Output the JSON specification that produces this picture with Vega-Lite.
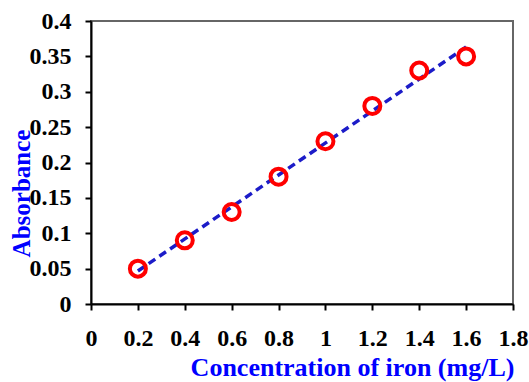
{
  "$schema": "https://vega.github.io/schema/vega-lite/v6.json",
  "width": 422,
  "height": 283,
  "autosize": "none",
  "padding": {"left": 91, "top": 21, "right": 16, "bottom": 78},
  "background": "white",
  "config": {
    "view": {"stroke": "#666666", "strokeWidth": 2},
    "axis": {
      "grid": false,
      "domainColor": "black",
      "domainWidth": 2,
      "tickColor": "black",
      "tickWidth": 2,
      "tickSize": 6,
      "labelFont": "Liberation Serif",
      "labelFontWeight": "bold",
      "labelFontSize": 24,
      "labelColor": "black",
      "labelOverlap": false,
      "format": "~g",
      "titleFont": "Liberation Serif",
      "titleFontWeight": "bold",
      "titleColor": "#0000ff"
    }
  },
  "datasets": {
    "pts": [
      {"conc": 0.2, "abs": 0.05},
      {"conc": 0.4, "abs": 0.09},
      {"conc": 0.6, "abs": 0.13},
      {"conc": 0.8, "abs": 0.18},
      {"conc": 1.0, "abs": 0.23},
      {"conc": 1.2, "abs": 0.28},
      {"conc": 1.4, "abs": 0.33},
      {"conc": 1.6, "abs": 0.35}
    ],
    "fit": [
      {"conc": 0.2, "abs": 0.0467},
      {"conc": 1.6, "abs": 0.3633}
    ]
  },
  "encoding": {
    "x": {"field": "conc", "type": "quantitative", "scale": {"domain": [0, 1.8], "nice": false},
      "axis": {"values": [0, 0.2, 0.4, 0.6, 0.8, 1, 1.2, 1.4, 1.6, 1.8], "labelPadding": 16, "labelFlush": false,
        "title": "Concentration of iron (mg/L)", "titleFontSize": 26, "titleX": 261, "titleY": 71, "titleAnchor": "middle", "titleAlign": "center", "titleBaseline": "alphabetic"}},
    "y": {"field": "abs", "type": "quantitative", "scale": {"domain": [0, 0.4], "nice": false},
      "axis": {"values": [0, 0.05, 0.1, 0.15, 0.2, 0.25, 0.3, 0.35, 0.4], "labelPadding": 14, "labelFlush": false,
        "title": "Absorbance", "titleFontSize": 25, "titleX": -70, "titleY": 172, "titleAngle": -90, "titleAlign": "center", "titleBaseline": "middle"}}
  },
  "layer": [
    {
      "data": {"name": "fit"},
      "mark": {"type": "line", "color": "#1c1cc8", "strokeWidth": 3.5, "strokeDash": [8, 5]}
    },
    {
      "data": {"name": "pts"},
      "mark": {"type": "point", "shape": "circle", "filled": false, "color": "#ff0000", "strokeWidth": 4, "size": 256, "opacity": 1}
    }
  ]
}
